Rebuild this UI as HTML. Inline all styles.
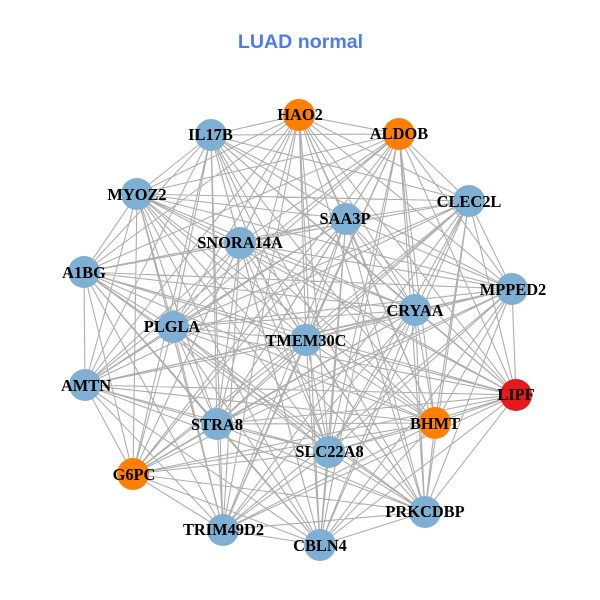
<!DOCTYPE html>
<html>
<head>
<meta charset="utf-8">
<style>
html,body{margin:0;padding:0;background:#fff;width:600px;height:600px;overflow:hidden}
svg{display:block}
.n text{font-family:"Liberation Serif",serif;font-weight:bold;font-size:16.4px;fill:#000;text-anchor:middle}
</style>
</head>
<body>
<svg id="s" xmlns="http://www.w3.org/2000/svg" width="600" height="600" viewBox="0 0 600 600">
<rect width="600" height="600" fill="#fff"/>
<path id="e" fill="none" stroke="#aeaeae" stroke-width="1.1" d=""/>
<g class="n">
<circle cx="299" cy="115" r="16" fill="#ff7f00"/>
<circle cx="399" cy="134" r="16" fill="#ff7f00"/>
<circle cx="211" cy="135" r="16" fill="#7fb0d3"/>
<circle cx="469" cy="201" r="16" fill="#7fb0d3"/>
<circle cx="137" cy="194" r="16" fill="#7fb0d3"/>
<circle cx="346" cy="219" r="16" fill="#7fb0d3"/>
<circle cx="240" cy="243" r="16" fill="#7fb0d3"/>
<circle cx="84" cy="272" r="16" fill="#7fb0d3"/>
<circle cx="512" cy="289" r="16" fill="#7fb0d3"/>
<circle cx="415" cy="310" r="16" fill="#7fb0d3"/>
<circle cx="173" cy="327" r="16" fill="#7fb0d3"/>
<circle cx="306" cy="340" r="16" fill="#7fb0d3"/>
<circle cx="85" cy="385" r="16" fill="#7fb0d3"/>
<circle cx="516" cy="395" r="16" fill="#e41a1c"/>
<circle cx="435" cy="423" r="16" fill="#ff7f00"/>
<circle cx="217" cy="424" r="16" fill="#7fb0d3"/>
<circle cx="329" cy="452" r="16" fill="#7fb0d3"/>
<circle cx="133" cy="474" r="16" fill="#ff7f00"/>
<circle cx="425" cy="512" r="16" fill="#7fb0d3"/>
<circle cx="223" cy="530" r="16" fill="#7fb0d3"/>
<circle cx="320" cy="545" r="16" fill="#7fb0d3"/>
<text x="300" y="120">HAO2</text>
<text x="399" y="139">ALDOB</text>
<text x="210.5" y="140">IL17B</text>
<text x="469" y="207">CLEC2L</text>
<text x="137" y="200">MYOZ2</text>
<text x="345" y="224">SAA3P</text>
<text x="240" y="248">SNORA14A</text>
<text x="84" y="278">A1BG</text>
<text x="513" y="295">MPPED2</text>
<text x="415" y="316">CRYAA</text>
<text x="172" y="332">PLGLA</text>
<text x="306" y="346">TMEM30C</text>
<text x="86" y="391">AMTN</text>
<text x="516" y="400">LIPF</text>
<text x="435" y="429">BHMT</text>
<text x="217" y="430">STRA8</text>
<text x="329.5" y="457">SLC22A8</text>
<text x="134" y="480">G6PC</text>
<text x="425" y="517">PRKCDBP</text>
<text x="223.5" y="535">TRIM49D2</text>
<text x="320" y="551">CBLN4</text>
</g>
<text x="300.5" y="48" text-anchor="middle" style="font-family:'Liberation Sans',sans-serif;font-weight:bold;font-size:19.6px;fill:#4f7af5">LUAD normal</text>
</svg>
<script>
var p=[[299,115],[399,134],[211,135],[469,201],[137,194],[346,219],[240,243],[84,272],[512,289],[415,310],[173,327],[306,340],[85,385],[516,395],[435,423],[217,424],[329,452],[133,474],[425,512],[223,530],[320,545]];
var d="";
for(var i=0;i<p.length;i++)for(var j=i+1;j<p.length;j++){d+="M"+p[i][0]+" "+p[i][1]+"L"+p[j][0]+" "+p[j][1];}
document.getElementById("e").setAttribute("d",d);
</script>
</body>
</html>
